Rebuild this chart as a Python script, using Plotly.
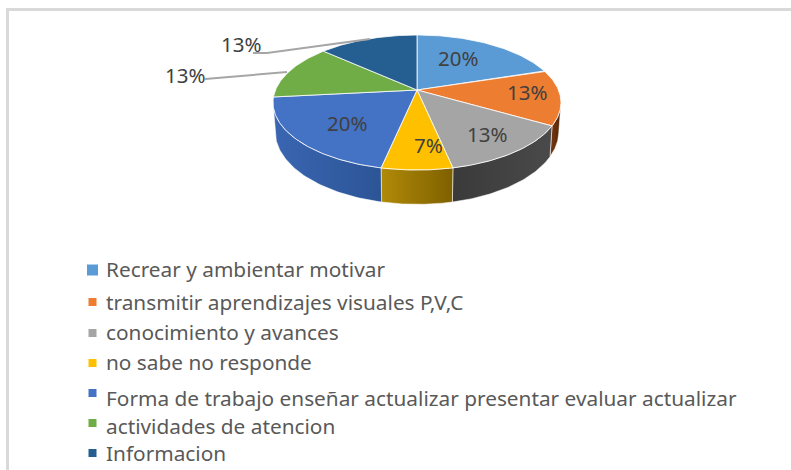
import numpy as np
import plotly.graph_objects as go

categories = ["Recrear y ambientar motivar", "transmitir aprendizajes visuales P,V,C",
              "conocimiento y avances", "no sabe no responde",
              "Forma de trabajo enseñar actualizar presentar evaluar actualizar",
              "actividades de atencion", "Informacion"]
values = [3, 2, 2, 1, 3, 2, 2]
pct_labels = ["20%", "13%", "13%", "7%", "20%", "13%", "13%"]

top_colors = ["#5B9BD5", "#ED7D31", "#A5A5A5", "#FFC000", "#4472C4", "#70AD47", "#255E91"]
wall_left = ["#5B9BD5", "#7A3A10", "#3A3A3A", "#B08A08", "#3A66B2", "#70AD47", "#255E91"]
wall_right = ["#5B9BD5", "#4E2508", "#4A4A4A", "#7F6000", "#2C5596", "#70AD47", "#255E91"]

label_x = [458, 527, 487, 428, 347, 185, 241]
label_y = [58, 92, 134, 145, 123, 75, 44]
legend_text_y = [269, 302, 332, 362, 398, 426, 453]
legend_mark_y = [270, 302, 333, 363, 393, 423, 453]
legend_mark_size = [11, 8, 8, 8, 8, 8, 8]

CX, CY, R, A, K, D = 417, 90, 141.5, 65.2, 0.185, 28
VIS0, VIS1 = 100.7, 259.3


def project(theta_deg, drop=0.0, shrink=1.0):
    t = np.radians(theta_deg)
    u, v = np.sin(t), -np.cos(t)
    w = 1 - K * v
    return CX + R * shrink * u / w, CY + (A * v + drop) / w


fig = go.Figure()
edges = np.cumsum([0] + values) / sum(values) * 360

# side walls
for i in range(len(values)):
    a0, a1 = max(edges[i], VIS0), min(edges[i + 1], VIS1)
    if a1 <= a0:
        continue
    th = np.linspace(a0, a1, 60)
    xt, yt = project(th)
    xb, yb = project(th[::-1], D, 0.985)
    fig.add_trace(go.Scatter(
        x=np.r_[xt, xb, xt[0]], y=np.r_[yt, yb, yt[0]], mode="lines", fill="toself",
        line=dict(color="rgba(255,255,255,0.55)", width=1),
        fillgradient=dict(type="horizontal",
                          colorscale=[[0, wall_left[i]], [1, wall_right[i]]]),
        hoverinfo="skip", showlegend=False))

# top face
for i in range(len(values)):
    th = np.linspace(edges[i], edges[i + 1], 80)
    xt, yt = project(th)
    fig.add_trace(go.Scatter(
        x=np.r_[CX, xt, CX], y=np.r_[CY, yt, CY], mode="lines", fill="toself",
        fillcolor=top_colors[i], line=dict(color="rgba(255,255,255,0.8)", width=1),
        hoverinfo="skip", showlegend=False))

# leader lines
fig.add_trace(go.Scatter(x=[253, 267, 370], y=[53, 53, 39], mode="lines",
                         line=dict(color="#A6A6A6", width=2), hoverinfo="skip", showlegend=False))
fig.add_trace(go.Scatter(x=[205, 287], y=[79, 72], mode="lines",
                         line=dict(color="#A6A6A6", width=2), hoverinfo="skip", showlegend=False))

# legend markers
fig.add_trace(go.Scatter(
    x=[92.5] * len(categories), y=legend_mark_y, mode="markers",
    marker=dict(symbol="square", size=legend_mark_size, color=top_colors, opacity=1, line=dict(width=0)),
    hoverinfo="skip", showlegend=False))

for txt, x, y in zip(pct_labels, label_x, label_y):
    fig.add_annotation(x=x, y=y, text=txt, showarrow=False, xanchor="center", yanchor="middle",
                       font=dict(family="Noto Sans", size=20.5, color="#404040"))
for txt, y in zip(categories, legend_text_y):
    fig.add_annotation(x=103.5, y=y, text=txt, showarrow=False, xanchor="left", yanchor="middle",
                       font=dict(family="Noto Sans", size=20.8, color="#595959"))

# frame
fig.add_shape(type="line", x0=6, x1=791, y0=9.5, y1=9.5, line=dict(color="#D9D9D9", width=3))
fig.add_shape(type="line", x0=7.5, x1=7.5, y0=8, y1=470, line=dict(color="#D9D9D9", width=3))

fig.update_layout(
    width=791, height=470, margin=dict(l=0, r=0, t=0, b=0),
    paper_bgcolor="white", plot_bgcolor="white", showlegend=False,
    xaxis=dict(range=[0, 791], visible=False, fixedrange=True),
    yaxis=dict(range=[470, 0], visible=False, fixedrange=True),
)
fig.write_html("out.html", config=dict(displayModeBar=False),
               post_script="document.body.style.margin='0';document.body.style.overflow='hidden';")
